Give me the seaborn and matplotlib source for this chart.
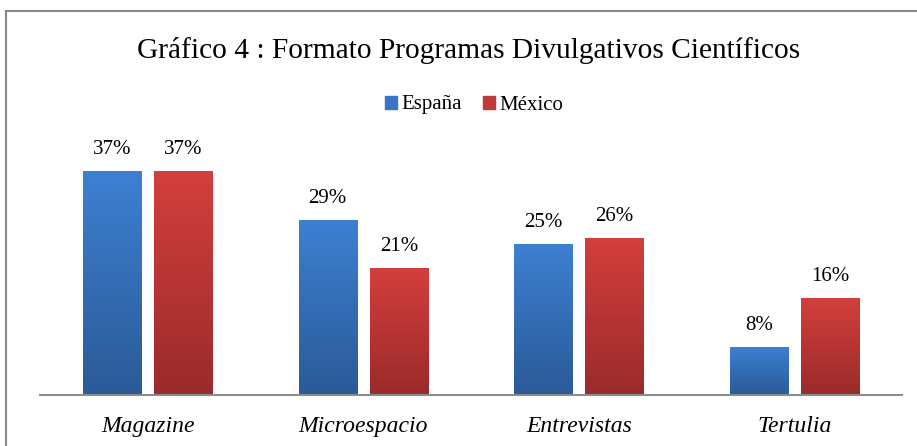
import numpy as np
import pandas as pd
import matplotlib
matplotlib.use('Agg')
import matplotlib.pyplot as plt
import seaborn as sns
from matplotlib.colors import LinearSegmentedColormap
from matplotlib.patches import Rectangle

categorias = ['Magazine', 'Microespacio', 'Entrevistas', 'Tertulia']
espana = [37, 29, 25, 8]
mexico = [37, 21, 26, 16]
series = ['España', 'México']

df = pd.DataFrame({
    'formato': categorias * 2,
    'pais': ['España'] * 4 + ['México'] * 4,
    'valor': espana + mexico,
})

sns.set_style('white')
plt.rcParams['font.family'] = ['Liberation Serif', 'DejaVu Serif']
plt.rcParams['text.color'] = 'black'
plt.rcParams['xtick.color'] = 'black'

fig = plt.figure(figsize=(9.17, 4.46), dpi=100)
ax = fig.add_axes([40 / 917, 51 / 446, 862 / 917, 272 / 446])

colores = {'España': '#3a75c4', 'México': '#c0393a'}
sns.barplot(data=df, x='formato', y='valor', hue='pais', palette=colores,
            order=categorias, hue_order=series, width=0.66, gap=0.18,
            ax=ax, legend=False)

# degradado vertical en cada barra
grad = {
    'España': LinearSegmentedColormap.from_list('es', ['#2b5a97', '#3d80d2']),
    'México': LinearSegmentedColormap.from_list('mx', ['#9a2b2b', '#d33f3c']),
}
g = np.linspace(0, 1, 256).reshape(-1, 1)
for i, p in enumerate(ax.patches):
    pais = series[i // len(categorias)]
    x0, w, h = p.get_x(), p.get_width(), p.get_height()
    im = ax.imshow(g, cmap=grad[pais], origin='lower', aspect='auto',
                   extent=[x0, x0 + w, 0, h], zorder=p.get_zorder() + 0.1)
    im.set_clip_path(p)
    ax.text(x0 + w / 2, h + 2.0, f'{int(h)}%', ha='center', va='bottom',
            fontsize=15)

ax.set_xlim(-0.5, 3.5)
ax.set_ylim(0, 45)
ax.set_yticks([])
ax.set_ylabel('')
ax.set_xlabel('')
ax.tick_params(axis='x', length=0, pad=15)
for lab in ax.get_xticklabels():
    lab.set_fontsize(17)
    lab.set_fontstyle('italic')
for s in ['top', 'right', 'left']:
    ax.spines[s].set_visible(False)
ax.spines['bottom'].set_color('#8c8c8c')
ax.spines['bottom'].set_linewidth(1.5)

fig.text(469 / 917, 1 - 50 / 446, 'Gráfico 4 : Formato Programas Divulgativos Científicos',
         ha='center', va='center', fontsize=21.2)

handles = [Rectangle((0, 0), 1, 1, color=colores[s]) for s in series]
fig.legend(handles, series, loc='center', bbox_to_anchor=(474 / 917, 1 - 105 / 446),
           ncol=2, frameon=False, fontsize=15, handlelength=0.6, handleheight=0.6,
           handletextpad=0.2, columnspacing=1.0)

fig.patches.append(Rectangle((6 / 917, -0.1), 1.2, 1.1 - 11 / 446,
                             transform=fig.transFigure, fill=False,
                             edgecolor='#888888', linewidth=1.5))

fig.savefig('out.png', dpi=100)
